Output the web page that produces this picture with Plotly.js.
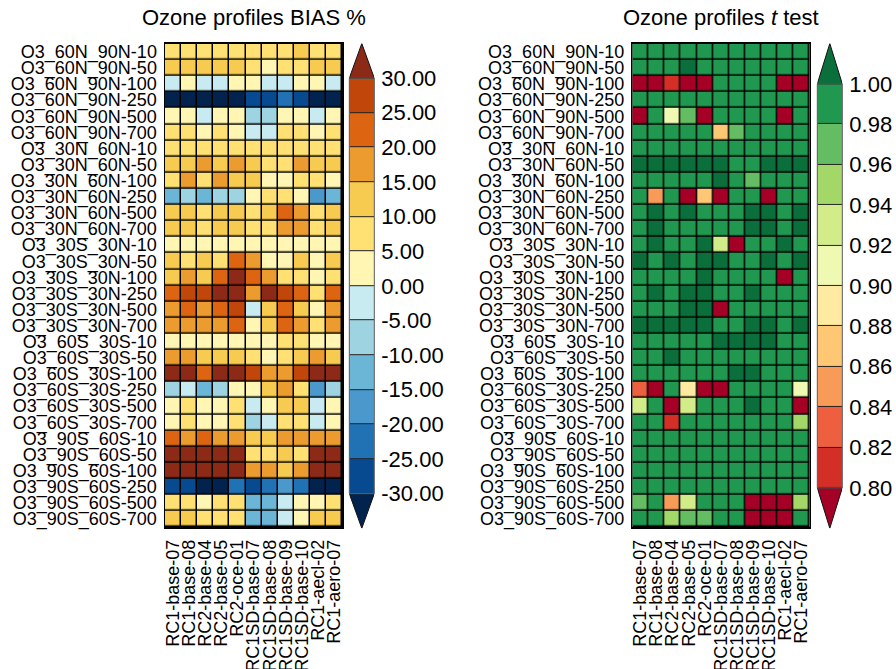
<!DOCTYPE html>
<html>
<head>
<meta charset="utf-8">
<script src="https://cdn.plot.ly/plotly-3.0.1.min.js"></script>
<style>html,body{margin:0;padding:0;background:#fff;}#chart{width:896px;height:669px;}</style>
</head>
<body>
<div id="chart"></div>
<script>
// ---------------- data ----------------
const rowLabels = [
  'O3_60N_90N-10','O3_60N_90N-50','O3_60N_90N-100','O3_60N_90N-250','O3_60N_90N-500','O3_60N_90N-700',
  'O3_30N_60N-10','O3_30N_60N-50','O3_30N_60N-100','O3_30N_60N-250','O3_30N_60N-500','O3_30N_60N-700',
  'O3_30S_30N-10','O3_30S_30N-50','O3_30S_30N-100','O3_30S_30N-250','O3_30S_30N-500','O3_30S_30N-700',
  'O3_60S_30S-10','O3_60S_30S-50','O3_60S_30S-100','O3_60S_30S-250','O3_60S_30S-500','O3_60S_30S-700',
  'O3_90S_60S-10','O3_90S_60S-50','O3_90S_60S-100','O3_90S_60S-250','O3_90S_60S-500','O3_90S_60S-700'
];
const colLabels = ['RC1-base-07','RC1-base-08','RC2-base-04','RC2-base-05','RC2-oce-01',
  'RC1SD-base-07','RC1SD-base-08','RC1SD-base-09','RC1SD-base-10','RC1-aecl-02','RC1-aero-07'];

// BIAS %
const biasValues = [
  [7.5,7.5,7.5,7.5,7.5,7.5,7.5,7.5,12.5,7.5,7.5],
  [12.5,12.5,12.5,12.5,12.5,7.5,2.5,7.5,7.5,12.5,12.5],
  [-2.5,2.5,-2.5,-2.5,2.5,2.5,-2.5,-2.5,2.5,2.5,-2.5],
  [-32.5,-32.5,-32.5,-32.5,-32.5,-27.5,-27.5,-22.5,-27.5,-32.5,-32.5],
  [2.5,2.5,-2.5,2.5,2.5,-7.5,-7.5,2.5,2.5,-2.5,2.5],
  [7.5,7.5,2.5,7.5,2.5,-2.5,-2.5,7.5,7.5,2.5,7.5],
  [7.5,7.5,7.5,7.5,7.5,7.5,7.5,7.5,7.5,7.5,7.5],
  [12.5,12.5,17.5,12.5,17.5,12.5,7.5,7.5,17.5,12.5,12.5],
  [7.5,17.5,7.5,17.5,12.5,12.5,2.5,2.5,7.5,7.5,2.5],
  [-12.5,-7.5,-12.5,-7.5,-7.5,2.5,7.5,7.5,2.5,-17.5,-12.5],
  [12.5,12.5,7.5,12.5,12.5,7.5,12.5,22.5,17.5,7.5,12.5],
  [12.5,12.5,7.5,12.5,12.5,7.5,7.5,17.5,17.5,7.5,12.5],
  [2.5,2.5,2.5,2.5,2.5,2.5,2.5,2.5,2.5,2.5,2.5],
  [12.5,7.5,12.5,7.5,22.5,17.5,2.5,2.5,12.5,2.5,12.5],
  [12.5,17.5,12.5,22.5,32.5,22.5,17.5,7.5,7.5,2.5,7.5],
  [22.5,27.5,27.5,32.5,32.5,17.5,32.5,27.5,22.5,7.5,22.5],
  [17.5,22.5,17.5,22.5,27.5,-2.5,12.5,22.5,12.5,2.5,17.5],
  [17.5,17.5,17.5,17.5,22.5,2.5,12.5,22.5,17.5,7.5,17.5],
  [2.5,2.5,2.5,2.5,2.5,2.5,2.5,7.5,7.5,2.5,2.5],
  [17.5,17.5,12.5,12.5,12.5,7.5,2.5,7.5,12.5,17.5,12.5],
  [32.5,32.5,22.5,32.5,32.5,27.5,17.5,17.5,27.5,32.5,32.5],
  [-7.5,-2.5,-12.5,-7.5,2.5,2.5,12.5,17.5,7.5,-17.5,-7.5],
  [2.5,7.5,2.5,2.5,7.5,-2.5,2.5,12.5,12.5,-2.5,2.5],
  [2.5,7.5,2.5,2.5,7.5,-7.5,-2.5,7.5,7.5,-2.5,2.5],
  [22.5,17.5,22.5,17.5,17.5,12.5,12.5,17.5,17.5,17.5,17.5],
  [32.5,32.5,32.5,32.5,32.5,7.5,7.5,12.5,7.5,32.5,32.5],
  [32.5,32.5,32.5,32.5,32.5,17.5,17.5,12.5,17.5,32.5,32.5],
  [-27.5,-27.5,-32.5,-32.5,-22.5,-27.5,-22.5,-17.5,-22.5,-32.5,-32.5],
  [7.5,7.5,2.5,7.5,7.5,-12.5,-12.5,-2.5,2.5,2.5,7.5],
  [12.5,12.5,7.5,7.5,7.5,-12.5,-12.5,-2.5,2.5,12.5,12.5]
];

// t test
const ttestValues = [
  [0.99,0.99,0.99,0.99,0.99,0.99,0.99,0.99,0.99,0.99,0.99],
  [0.99,0.99,0.99,1.00,0.99,0.99,0.99,0.99,0.99,0.99,0.99],
  [0.79,0.79,0.81,0.79,0.79,0.99,0.99,0.99,0.99,0.79,0.79],
  [0.99,0.99,0.99,0.99,0.99,0.99,0.99,0.99,0.99,0.99,0.99],
  [0.79,0.99,0.91,0.97,0.79,0.99,0.99,0.99,0.99,0.79,0.99],
  [0.99,0.99,0.99,0.99,0.99,0.87,0.97,0.99,0.99,0.99,0.99],
  [0.99,0.99,0.99,0.99,0.99,0.99,0.99,0.99,0.99,0.99,0.99],
  [1.00,1.00,1.00,1.00,1.00,1.00,0.99,0.99,1.00,1.00,1.00],
  [0.99,0.99,0.99,0.99,0.99,1.00,0.99,0.97,0.99,0.99,0.99],
  [0.99,0.85,0.99,0.79,0.87,0.79,0.99,0.99,0.79,0.99,0.99],
  [0.99,1.00,0.99,1.00,0.99,0.99,0.99,1.00,1.00,0.99,1.00],
  [0.99,1.00,0.99,0.99,0.99,0.99,0.99,1.00,1.00,0.99,1.00],
  [0.99,1.00,0.99,0.99,1.00,0.93,0.79,0.99,0.99,1.00,0.99],
  [1.00,0.99,1.00,0.99,1.00,1.00,0.99,0.99,1.00,0.99,1.00],
  [0.99,0.99,0.99,0.99,1.00,0.99,0.99,0.99,0.99,0.79,0.99],
  [0.99,1.00,0.99,1.00,1.00,0.99,0.99,1.00,0.99,0.99,0.99],
  [0.99,0.99,0.99,1.00,1.00,0.79,0.99,0.99,0.99,0.99,0.99],
  [1.00,1.00,1.00,1.00,1.00,0.99,0.99,1.00,1.00,0.99,1.00],
  [0.99,0.99,0.99,0.99,0.99,1.00,1.00,1.00,1.00,0.99,0.99],
  [0.99,0.99,1.00,0.99,0.99,0.99,0.99,0.99,0.99,0.99,0.99],
  [0.99,0.99,0.99,0.99,0.99,0.99,1.00,1.00,0.99,0.99,0.99],
  [0.83,0.79,0.99,0.89,0.79,0.79,0.99,0.99,0.99,0.99,0.91],
  [0.93,0.99,0.79,0.93,0.99,0.99,0.99,1.00,0.99,0.99,0.79],
  [0.99,0.99,0.81,0.99,0.99,0.99,0.99,0.99,0.99,0.99,0.95],
  [0.99,0.99,0.99,0.99,0.99,0.99,0.99,0.99,0.99,0.99,0.99],
  [0.99,0.99,0.99,0.99,0.99,0.99,0.99,0.99,0.99,0.99,0.99],
  [0.99,0.99,0.99,0.99,0.99,0.99,0.99,0.99,0.99,0.99,0.99],
  [0.99,0.99,0.99,0.99,0.99,0.99,0.99,0.99,0.99,0.99,0.99],
  [0.97,0.99,0.85,0.93,0.99,0.99,0.99,0.79,0.79,0.79,0.95],
  [0.99,0.99,0.95,0.97,0.97,0.99,0.99,0.79,0.79,0.79,0.99]
];

// colour levels
const biasEdges = [-35,-30,-25,-20,-15,-10,-5,0,5,10,15,20,25,30,35];
const biasColors = ['#03234f','#084a90','#2171b5','#4a98cc','#6bb5d6','#9ed3e2','#c8eaf1',
                    '#fff6b3','#fee172','#f7cb50','#ec9b2e','#dd6512','#c0460a','#8c2a17'];
const biasTickVals = [-30,-25,-20,-15,-10,-5,0,5,10,15,20,25,30];
const biasTickText = ['-30.00','-25.00','-20.00','-15.00','-10.00','-5.00','0.00','5.00','10.00','15.00','20.00','25.00','30.00'];
const biasBarCenters = [-27.5,-22.5,-17.5,-12.5,-7.5,-2.5,2.5,7.5,12.5,17.5,22.5,27.5];

const ttestEdges = [0.78,0.80,0.82,0.84,0.86,0.88,0.90,0.92,0.94,0.96,0.98,1.00,1.02];
const ttestColors = ['#a50026','#d42f27','#ee5f3f','#f99b58','#fdc774','#feeaa0',
                     '#f0f9b2','#d3ec8a','#a3d869','#64bd63','#209850','#0a6f3a'];
const ttestTickVals = [0.80,0.82,0.84,0.86,0.88,0.90,0.92,0.94,0.96,0.98,1.00];
const ttestTickText = ['0.80','0.82','0.84','0.86','0.88','0.90','0.92','0.94','0.96','0.98','1.00'];
const ttestBarCenters = [0.81,0.83,0.85,0.87,0.89,0.91,0.93,0.95,0.97,0.99];

// ---------------- helpers ----------------
function stepScale(edges, colors) {
  const lo = edges[0], hi = edges[edges.length - 1], span = hi - lo, cs = [];
  for (let i = 0; i < colors.length; i++) {
    cs.push([(edges[i] - lo) / span, colors[i]]);
    const end = (i === colors.length - 1) ? 1 : (edges[i + 1] - lo) / span - 1e-6;
    cs.push([end, colors[i]]);
  }
  return cs;
}
const FONT = 'Liberation Sans, Arial, Helvetica, sans-serif';
const W = 896, H = 669;
const px = (a, b) => [a / W, b / W];
const py = (top, bottom) => [1 - bottom / H, 1 - top / H];

const biasScale = stepScale(biasEdges, biasColors);
const ttestScale = stepScale(ttestEdges, ttestColors);

const traces = [];
traces.push({
  type: 'heatmap', x: colLabels, y: rowLabels, z: biasValues,
  colorscale: biasScale, zmin: biasEdges[0], zmax: biasEdges[biasEdges.length - 1],
  showscale: false, xgap: 1.5, ygap: 1.5, xaxis: 'x', yaxis: 'y', hoverinfo: 'x+y+z'
});
traces.push({
  type: 'heatmap', x: colLabels, y: rowLabels, z: ttestValues,
  colorscale: ttestScale, zmin: ttestEdges[0], zmax: ttestEdges[ttestEdges.length - 1],
  showscale: false, xgap: 1.5, ygap: 1.5, xaxis: 'x2', yaxis: 'y2', hoverinfo: 'x+y+z'
});
// colour bars drawn as one-column heatmaps
traces.push({
  type: 'heatmap', x: [0], y: biasBarCenters, z: biasBarCenters.map(v => [v]),
  colorscale: biasScale, zmin: biasEdges[0], zmax: biasEdges[biasEdges.length - 1],
  showscale: false, ygap: 1, xaxis: 'x3', yaxis: 'y3', hoverinfo: 'skip'
});
traces.push({
  type: 'heatmap', x: [0], y: ttestBarCenters, z: ttestBarCenters.map(v => [v]),
  colorscale: ttestScale, zmin: ttestEdges[0], zmax: ttestEdges[ttestEdges.length - 1],
  showscale: false, ygap: 1, xaxis: 'x4', yaxis: 'y4', hoverinfo: 'skip'
});
// end triangles
function tri(edges, colors, xa, ya, top) {
  const n = edges.length;
  const base = top ? edges[n - 2] : edges[1];
  const tip = top ? edges[n - 1] : edges[0];
  const col = top ? colors[colors.length - 1] : colors[0];
  return { type: 'scatter', mode: 'lines', x: [-0.5, 0.5, 0, -0.5], y: [base, base, tip, base],
    fill: 'toself', fillcolor: col, line: { color: '#111', width: 1 },
    xaxis: xa, yaxis: ya, hoverinfo: 'skip', showlegend: false };
}
traces.push(tri(biasEdges, biasColors, 'x3', 'y3', true));
traces.push(tri(biasEdges, biasColors, 'x3', 'y3', false));
traces.push(tri(ttestEdges, ttestColors, 'x4', 'y4', true));
traces.push(tri(ttestEdges, ttestColors, 'x4', 'y4', false));

const heatY = py(43.7, 527);
const catX = (dom, anchor) => ({
  domain: dom, anchor: anchor, type: 'category', tickangle: -90,
  tickmode: 'array', tickvals: colLabels, ticktext: colLabels,
  showgrid: false, zeroline: false, ticks: '', showline: true, mirror: true,
  linecolor: '#000', linewidth: 1.5, ticklabelstandoff: 4,
  tickfont: { family: FONT, size: 18, color: '#000' }, fixedrange: true
});
const catY = (anchor) => ({
  domain: heatY, anchor: anchor, type: 'category', autorange: 'reversed',
  tickmode: 'array', tickvals: rowLabels, ticktext: rowLabels,
  showgrid: false, zeroline: false, ticks: '', showline: true, mirror: true,
  linecolor: '#000', linewidth: 1.5, ticklabelstandoff: 3,
  tickfont: { family: FONT, size: 18, color: '#000' }, fixedrange: true
});
const barX = (dom, anchor) => ({
  domain: dom, anchor: anchor, range: [-0.5, 0.5], showgrid: false, zeroline: false,
  showticklabels: false, ticks: '', showline: false, fixedrange: true
});
const barY = (dom, anchor, edges, tv, tt) => ({
  domain: dom, anchor: anchor, side: 'right', range: [edges[0], edges[edges.length - 1]],
  tickmode: 'array', tickvals: tv, ticktext: tt, showgrid: false, zeroline: false, ticks: '', showline: false,
  ticklabelstandoff: 6, tickfont: { family: FONT, size: 22, color: '#000' }, fixedrange: true
});

const leftX = px(165, 342.3), rightX = px(632.3, 809.7);
const layout = {
  width: W, height: H, margin: { l: 0, r: 0, t: 0, b: 0 },
  paper_bgcolor: '#fff', plot_bgcolor: 'rgba(0,0,0,0)', showlegend: false,
  xaxis: catX(leftX, 'y'), yaxis: catY('x'),
  xaxis2: catX(rightX, 'y2'), yaxis2: catY('x2'),
  xaxis3: barX(px(349.3, 374.3), 'y3'),
  yaxis3: barY(py(43.5, 528.3), 'x3', biasEdges, biasTickVals, biasTickText),
  xaxis4: barX(px(817.3, 842.3), 'y4'),
  yaxis4: barY(py(43.5, 528.3), 'x4', ttestEdges, ttestTickVals, ttestTickText),
  shapes: [
    { type: 'rect', xref: 'x domain', yref: 'y domain', x0: 0, x1: 1, y0: 0, y1: 1, fillcolor: '#000', line: { width: 0 }, layer: 'below' },
    { type: 'rect', xref: 'x2 domain', yref: 'y2 domain', x0: 0, x1: 1, y0: 0, y1: 1, fillcolor: '#000', line: { width: 0 }, layer: 'below' },
    { type: 'rect', xref: 'x3 domain', yref: 'y3', x0: 0, x1: 1, y0: biasEdges[1], y1: biasEdges[biasEdges.length - 2], fillcolor: '#222', line: { width: 0 }, layer: 'below' },
    { type: 'rect', xref: 'x3 domain', yref: 'y3', x0: 0, x1: 1, y0: biasEdges[1], y1: biasEdges[biasEdges.length - 2], fillcolor: 'rgba(0,0,0,0)', line: { width: 1, color: '#666' }, layer: 'above' },
    { type: 'rect', xref: 'x4 domain', yref: 'y4', x0: 0, x1: 1, y0: ttestEdges[1], y1: ttestEdges[ttestEdges.length - 2], fillcolor: '#222', line: { width: 0 }, layer: 'below' },
    { type: 'rect', xref: 'x4 domain', yref: 'y4', x0: 0, x1: 1, y0: ttestEdges[1], y1: ttestEdges[ttestEdges.length - 2], fillcolor: 'rgba(0,0,0,0)', line: { width: 1, color: '#666' }, layer: 'above' }
  ],
  annotations: [
    { text: 'Ozone profiles BIAS %', xref: 'paper', yref: 'paper', x: (leftX[0] + leftX[1]) / 2, y: 1 - 17 / H,
      xanchor: 'center', yanchor: 'middle', showarrow: false, font: { family: FONT, size: 22, color: '#000' } },
    { text: 'Ozone profiles <i>t</i> test', xref: 'paper', yref: 'paper', x: (rightX[0] + rightX[1]) / 2, y: 1 - 17 / H,
      xanchor: 'center', yanchor: 'middle', showarrow: false, font: { family: FONT, size: 22, color: '#000' } }
  ]
};
Plotly.newPlot('chart', traces, layout, { displayModeBar: false, staticPlot: true });
</script>
</body>
</html>
